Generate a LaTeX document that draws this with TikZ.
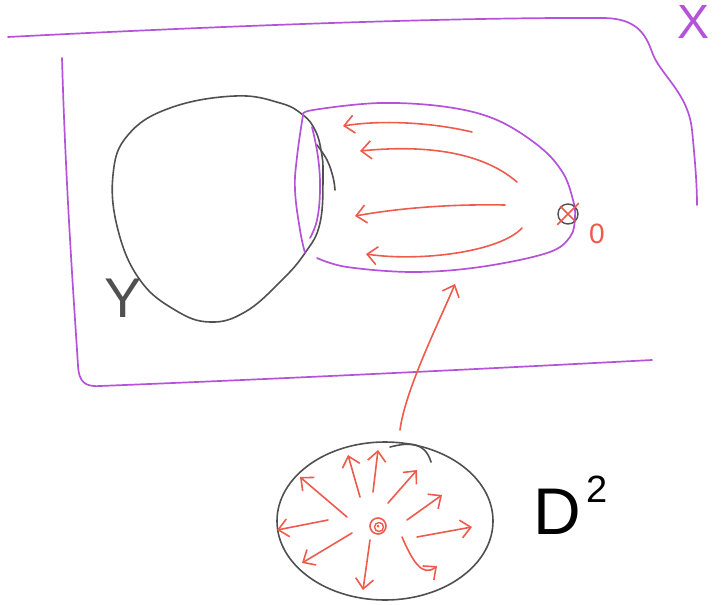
\documentclass[tikz,border=0pt]{standalone}
\usepackage{fontspec}
\setmainfont{Liberation Sans}
\usetikzlibrary{arrows.meta,shapes.geometric}
\definecolor{pur}{HTML}{B552DA}
\definecolor{rd}{HTML}{EE5A4C}
\definecolor{gr}{HTML}{505050}
\tikzset{
  purline/.style={draw=pur,line width=1.7pt,line cap=round,line join=round},
  redline/.style={draw=rd,line width=1.6pt,line cap=round,line join=round},
  redarrow/.style={redline,-{Straight Barb[length=10pt,width=18pt,line width=1.6pt]}},
  grline/.style={draw=gr,line width=1.6pt,line cap=round,line join=round},
  lbl/.style={inner sep=0pt}
}
\begin{document}
\begin{tikzpicture}[x=1pt,y=-1pt]
\useasboundingbox (0,0) rectangle (723,605);
% outer space X
\draw[purline] (8,37) .. controls (200,27) and (450,17) .. (605,18)
  .. controls (635,19) and (645,32) .. (652,52)
  .. controls (660,75) and (688,92) .. (692,130)
  .. controls (695,160) and (697,185) .. (697,205);
\draw[purline] (62,58) .. controls (66,200) and (76,330) .. (78,366)
  .. controls (79,382) and (85,387) .. (100,386)
  .. controls (300,378) and (500,368) .. (652,360);
\node[lbl,text=pur,font=\fontsize{48}{50}\selectfont] (labX) at (694,22) {X};
% Y blob
\draw[grline] plot[smooth cycle,tension=0.7] coordinates {(235,96) (280,103) (303,115) (315,130) (321,150) (323,175) (320,223) (305,253) (280,282) (245,312) (210,322) (175,310) (140,280) (118,230) (113,175) (128,135) (170,108)};
\draw[grline] plot[smooth,tension=0.7] coordinates {(317,145) (327,160) (333,177) (335,190)};
\node[lbl,text=gr,font=\fontsize{56}{58}\selectfont] (labY) at (123,298) {Y};
% purple cap
\draw[purline] plot[smooth,tension=0.7] coordinates {(303,115) (297,157) (295,190) (300,230) (305,253)};
\draw[purline] plot[smooth,tension=0.7] coordinates {(312,127) (318,157) (320,190) (317,220) (310,238)};
\draw[purline] plot[smooth,tension=0.6] coordinates {(303,115) (313,110) (380,103) (447,107) (497,120) (540,147) (563,173) (573,200) (575,217) (570,237) (547,253) (480,267) (413,272) (347,267) (317,258)};
% point 0
\node[circle,draw=gr,line width=1.4pt,minimum size=20pt,inner sep=0pt] (pt) at (568,214) {};
\draw[redline] ([shift={(-3,3)}]pt.south west) -- ([shift={(3,-3)}]pt.north east);
\draw[redline] (pt.north west) -- (pt.south east);
\node[inner sep=0pt,text=rd,font=\fontsize{28}{30}\selectfont] (lab0) at (597,234) {0};
% flow arrows in cap
\draw[redarrow] (472,132) .. controls (430,122) and (380,120) .. (343,126);
\draw[redarrow] (517,182) .. controls (480,150) and (420,145) .. (360,151);
\draw[redarrow] (505,205) .. controls (450,204) and (400,208) .. (355,216);
\draw[redarrow] (522,228) .. controls (500,252) and (420,262) .. (366,254);
% disk D^2
\node[ellipse,draw=gr,line width=1.6pt,minimum width=216pt,minimum height=158pt,inner sep=0pt] (disk) at (385,521) {};
\draw[grline] (390,447) .. controls (410,442) and (425,442) .. (431,462);
\node[circle,draw=rd,line width=1.6pt,minimum size=16pt,inner sep=0pt] (ctr) at (378,526) {};
\node[circle,draw=rd,line width=1.4pt,minimum size=9pt,inner sep=0pt] at (379,527) {};
\node[circle,fill=rd,minimum size=3pt,inner sep=0pt] at (378,526) {};
\draw[redarrow] (360,497) -- (348,455);
\draw[redarrow] (373,492) -- (378,450);
\draw[redarrow] (388,503) -- (417,470);
\draw[redarrow] (407,520) -- (442,495);
\draw[redarrow] (417,537) -- (472,527);
\draw[redarrow] (402,537) .. controls (412,560) and (422,578) .. (437,566);
\draw[redarrow] (370,540) -- (363,590);
\draw[redarrow] (352,533) -- (302,563);
\draw[redarrow] (328,520) -- (277,530);
\draw[redarrow] (347,517) -- (300,477);
\node[lbl,text=black,font=\fontsize{66}{68}\selectfont,anchor=base west] (labD) at (533,534) {D};
\node[lbl,text=black,font=\fontsize{38}{40}\selectfont] (labTwo) at (597,489) {2};
% map arrow
\coordinate (mapstart) at (400,430);
\coordinate (mapend) at (455,284);
\draw[redarrow] (mapstart) .. controls (405,390) and (440,320) .. (mapend);
\end{tikzpicture}
\end{document}
